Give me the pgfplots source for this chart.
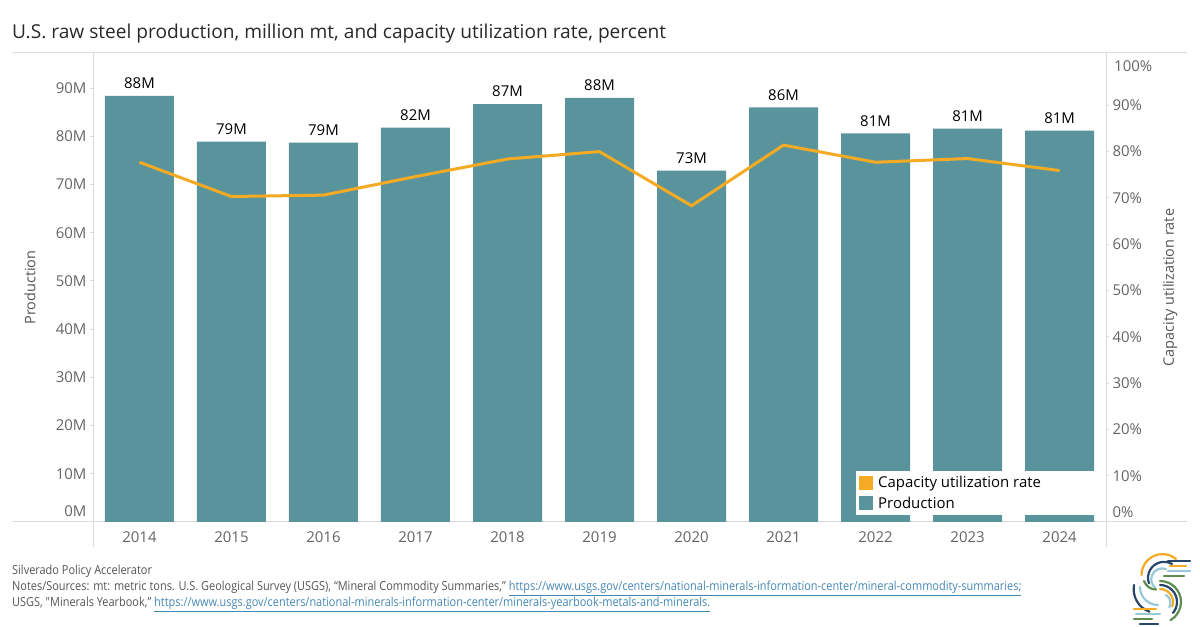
\documentclass[border=0pt]{standalone}
\usepackage{fontspec}
\setmainfont{Open Sans}
\newfontfamily\footfont[FakeStretch=0.88]{Open Sans}
\usepackage{pgfplots}
\usepackage{pgfplotstable}
\pgfplotsset{compat=1.18}
\definecolor{barteal}{RGB}{89,147,156}
\definecolor{lineorange}{RGB}{245,170,35}
\definecolor{ticklab}{RGB}{100,100,100}
\definecolor{framegray}{RGB}{218,218,218}
\definecolor{linkblue}{RGB}{70,135,180}
\definecolor{footgray}{RGB}{85,85,85}
\definecolor{titlecol}{RGB}{40,40,40}
\definecolor{logonavy}{RGB}{40,70,105}
\definecolor{logogreen}{RGB}{95,140,80}
\definecolor{logoblue}{RGB}{150,200,215}

\pgfplotstableread{
x val lab
0 88.4 88M
1 78.9 79M
2 78.7 79M
3 81.8 82M
4 86.7 87M
5 88.0 88M
6 72.9 73M
7 86.0 86M
8 80.6 81M
9 81.6 81M
10 81.2 81M
}\prodtable

\pgfplotstableread{
x rate
0 77.7
1 70.3
2 70.6
3 74.6
4 78.4
5 80.0
6 68.3
7 81.4
8 77.7
9 78.5
10 75.9
}\ratetable

\newcommand\lnk[1]{{\color{linkblue}\underline{#1}}}

\begin{document}
\begin{tikzpicture}[x=1bp,y=1bp]
\path[use as bounding box] (0,0) rectangle (1200,627);
% title
\node[anchor=base west, inner sep=0, text=titlecol, font=\fontsize{19.2}{23}\selectfont] at (12,588)
  {U.S. raw steel production, million mt, and capacity utilization rate, percent};
% frame lines
\draw[framegray, line width=1bp] (12,574) -- (1187,574);
\draw[framegray, line width=1bp] (12,105) -- (1187,105);
\draw[framegray, line width=1bp] (93,574) -- (93,80);
\draw[framegray, line width=1bp] (1106,574) -- (1106,80);

\begin{axis}[
  at={(93bp,105bp)}, anchor=south west, scale only axis,
  width=1013bp, height=469bp,
  xmin=-0.505, xmax=10.505, ymin=0, ymax=97.3,
  axis x line*=bottom, axis y line*=left,
  axis line style={draw=none},
  xtick={0,...,10},
  xticklabels={2014,2015,2016,2017,2018,2019,2020,2021,2022,2023,2024},
  x tick style={draw=none},
  ytick={10,20,...,90},
  yticklabels={10M,20M,30M,40M,50M,60M,70M,80M,90M},
  extra y ticks={0}, extra y tick labels={0M},
  extra y tick style={yticklabel style={yshift=11bp}},
  y tick style={framegray, line width=1bp},
  tick align=outside, major tick length=3bp,
  ticklabel style={font=\fontsize{15}{18}\selectfont, text=ticklab},
  xticklabel style={yshift=-3bp},
  ylabel={Production},
  ylabel style={at={(axis description cs:-0.0622,0.5)}, anchor=center,
    font=\fontsize{14.5}{17}\selectfont, text=footgray},
]
\addplot[ybar, bar width=69bp, fill=barteal, draw=none,
  nodes near coords, point meta=explicit symbolic,
  every node near coord/.style={font=\fontsize{15}{18}\selectfont, text=black,
    anchor=south, inner sep=0pt, yshift=7bp}]
  table[x=x, y=val, meta=lab] {\prodtable};
\end{axis}

\begin{axis}[
  at={(93bp,105bp)}, anchor=south west, scale only axis,
  width=1013bp, height=469bp,
  xmin=-0.505, xmax=10.505, ymin=0, ymax=101.3,
  axis x line=none, axis y line*=right,
  axis line style={draw=none},
  ytick={10,20,...,90},
  yticklabels={10\%,20\%,30\%,40\%,50\%,60\%,70\%,80\%,90\%},
  extra y ticks={0}, extra y tick labels={0\%},
  extra y tick style={yticklabel style={yshift=10bp}},
  y tick style={framegray, line width=1bp},
  tick align=outside, major tick length=3bp,
  ticklabel style={font=\fontsize{15}{18}\selectfont, text=ticklab},
  ylabel={Capacity utilization rate},
  ylabel style={at={(axis description cs:1.0632,0.5)}, anchor=center, rotate=0,
    font=\fontsize{14.5}{17}\selectfont, text=footgray},
  legend style={at={(axis description cs:0.7532,0.1087)}, anchor=north west,
    draw=none, fill=white, font=\fontsize{15}{18}\selectfont,
    inner xsep=3bp, inner ysep=3bp, row sep=4bp},
  legend cell align=left,
  legend image code/.code={\fill[#1] (0bp,-7bp) rectangle (14bp,7bp);},
]
\addplot[lineorange, line width=3bp, forget plot] table[x=x, y=rate] {\ratetable};
\addlegendimage{fill=lineorange, draw=none}
\addlegendentry{\makebox[215bp][l]{\hspace{3bp}Capacity utilization rate}}
\addlegendimage{fill=barteal, draw=none}
\addlegendentry{\makebox[215bp][l]{\hspace{3bp}Production}}
\end{axis}

\node[anchor=west, inner sep=0, text=ticklab, font=\fontsize{15}{18}\selectfont] at (1114,561) {100\%};

% footer
\node[anchor=base west, inner sep=0, text=footgray, font=\footfont\fontsize{12.5}{15}\selectfont] at (12,52)
  {Silverado Policy Accelerator};
\node[anchor=base west, inner sep=0, text=footgray, font=\footfont\fontsize{12.5}{15}\selectfont] at (12,36)
  {Notes/Sources: mt: metric tons. U.S. Geological Survey (USGS), “Mineral Commodity Summaries,” \lnk{https://www.usgs.gov/centers/national-minerals-information-center/mineral-commodity-summaries;}};
\node[anchor=base west, inner sep=0, text=footgray, font=\footfont\fontsize{12.5}{15}\selectfont] at (12,20)
  {USGS, "Minerals Yearbook,” \lnk{https://www.usgs.gov/centers/national-minerals-information-center/minerals-yearbook-metals-and-minerals.}};

% logo
\begin{scope}[line width=2.2bp, line cap=round]
  \draw[lineorange] (1176,68) arc[start angle=50, end angle=180, radius=21];
  \draw[logonavy] (1172,63) arc[start angle=60, end angle=200, radius=16];
  \draw[logoblue] (1166,58) arc[start angle=70, end angle=230, radius=11];
  \draw[logogreen] (1144,46) arc[start angle=200, end angle=270, radius=13];
  \draw[logoblue] (1140,40) arc[start angle=180, end angle=270, radius=18];
  \draw[logonavy] (1134,42) arc[start angle=170, end angle=250, radius=24];
  \draw[lineorange] (1160,38) arc[start angle=90, end angle=-20, radius=13];
  \draw[logonavy] (1160,42) arc[start angle=90, end angle=-40, radius=17];
  \draw[logogreen] (1160,46) arc[start angle=90, end angle=-60, radius=21];
  \draw[logoblue] (1166,32) arc[start angle=60, end angle=-30, radius=9];
  \draw[logonavy] (1168,66) -- (1190,66);
  \draw[lineorange] (1170,61) -- (1186,61);
  \draw[logoblue] (1168,56) -- (1190,56);
  \draw[logogreen] (1164,51) -- (1184,51);
  \draw[lineorange] (1134,18) -- (1156,18);
  \draw[logoblue] (1136,13) -- (1160,13);
  \draw[logogreen] (1134,8) -- (1152,8);
  \draw[logonavy] (1140,3) -- (1158,3);
\end{scope}
\end{tikzpicture}
\end{document}
